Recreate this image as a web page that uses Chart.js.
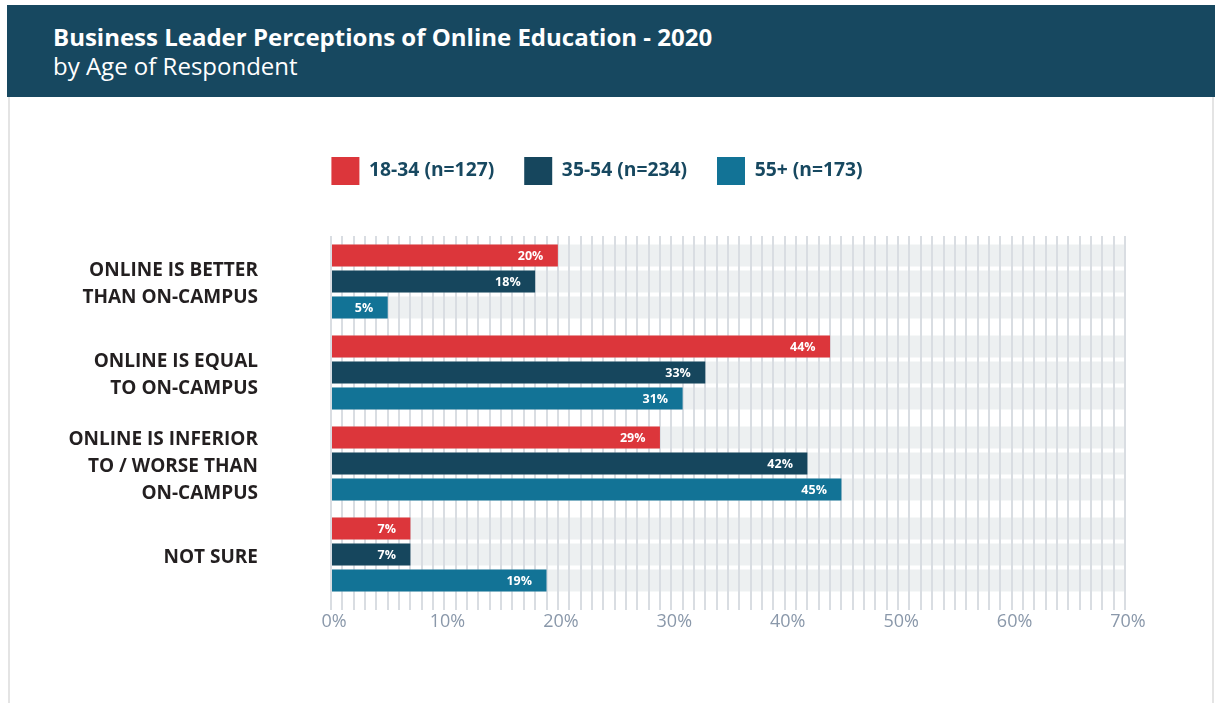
<!DOCTYPE html>
<html>
<head>
<meta charset="utf-8">
<script src="https://cdn.jsdelivr.net/npm/chart.js@4.4.1/dist/chart.umd.min.js"></script>
<style>
  html, body { margin: 0; padding: 0; background: #ffffff; }
  body { width: 1215px; height: 703px; position: relative; overflow: hidden; font-family: 'Open Sans', sans-serif; }
  #band { position: absolute; left: 7px; top: 5px; width: 1208px; height: 92px; background: #174860; color: #fff; box-sizing: border-box; padding: 18px 0 0 46px; }
  #band .t { font-weight: 700; font-size: 24px; line-height: 28px; }
  #band .s { font-weight: 400; font-size: 24px; line-height: 29px; }
  #card { position: absolute; left: 8px; top: 97px; width: 1206px; height: 620px; border-left: 2px solid #e4e4e4; border-right: 2px solid #e4e4e4; box-sizing: border-box; }
  #wrap { position: absolute; left: 0; top: 100px; width: 1215px; height: 603px; }
</style>
</head>
<body>
<div id="band"><div class="t">Business Leader Perceptions of Online Education - 2020</div><div class="s">by Age of Respondent</div></div>
<div id="card"></div>
<div id="wrap"><canvas id="c" width="1215" height="603"></canvas></div>
<script>
const categories = [
  ['ONLINE IS BETTER', 'THAN ON-CAMPUS'],
  ['ONLINE IS EQUAL', 'TO ON-CAMPUS'],
  ['ONLINE IS INFERIOR', 'TO / WORSE THAN', 'ON-CAMPUS'],
  ['NOT SURE']
];
const seriesNames = ['18-34 (n=127)', '35-54 (n=234)', '55+ (n=173)'];
const age18to34 = [20, 44, 29, 7];
const age35to54 = [18, 33, 42, 7];
const age55plus = [5, 31, 45, 19];
const seriesColors = ['#dc363b', '#16465d', '#127396'];
const axisMax = 70;
const tickLabelStep = 10;

Chart.defaults.font.family = "'Open Sans', sans-serif";

const trackPlugin = {
  id: 'tracks',
  beforeDraw(chart) {
    const ctx = chart.ctx;
    const xs = chart.scales.x;
    const left = xs.getPixelForValue(0);
    const right = xs.getPixelForValue(axisMax);
    ctx.save();
    ctx.fillStyle = '#edf0f1';
    chart.data.datasets.forEach((ds, i) => {
      const meta = chart.getDatasetMeta(i);
      meta.data.forEach(el => {
        ctx.fillRect(left, el.y - el.height / 2, right - left, el.height);
      });
    });
    ctx.restore();
  }
};

const labelPlugin = {
  id: 'barLabels',
  afterDatasetsDraw(chart) {
    const ctx = chart.ctx;
    ctx.save();
    ctx.fillStyle = '#ffffff';
    ctx.font = "700 12.5px 'Open Sans', sans-serif";
    ctx.textAlign = 'right';
    ctx.textBaseline = 'middle';
    chart.data.datasets.forEach((ds, i) => {
      const meta = chart.getDatasetMeta(i);
      meta.data.forEach((el, j) => {
        ctx.fillText(ds.data[j] + '%', el.x - 14.5, el.y + 0.5);
      });
    });
    ctx.restore();
  }
};

const seriesData = [age18to34, age35to54, age55plus];

new Chart(document.getElementById('c'), {
  type: 'bar',
  data: {
    labels: categories,
    datasets: seriesData.map((d, i) => ({
      label: seriesNames[i],
      data: d,
      backgroundColor: seriesColors[i],
      borderWidth: 0,
      borderSkipped: false,
      barPercentage: 0.846,
      categoryPercentage: 0.857
    }))
  },
  options: {
    indexAxis: 'y',
    responsive: false,
    animation: false,
    layout: { padding: { top: 27, bottom: 63, left: 0, right: 21 } },
    plugins: {
      tooltip: { enabled: false },
      legend: {
        position: 'top',
        align: 'center',
        onClick: null,
        labels: {
          boxWidth: 28,
          boxHeight: 28,
          padding: 30,
          color: '#174860',
          font: { size: 19.3, weight: '700', family: "'Open Sans', sans-serif" }
        }
      }
    },
    scales: {
      x: {
        type: 'linear',
        position: 'bottom',
        min: 0,
        max: axisMax,
        grid: { color: '#d9dde2', lineWidth: 2, drawTicks: true, tickLength: 10, tickColor: '#d9dde2' },
        border: { display: false },
        ticks: {
          stepSize: 1,
          autoSkip: false,
          maxRotation: 0,
          padding: 1,
          labelOffset: 3,
          color: '#8a98aa',
          font: { size: 18, family: "'Open Sans', sans-serif" },
          callback: v => (v % tickLabelStep === 0 ? v + '%' : '')
        },
        afterFit: s => { s.height = 40; }
      },
      xTop: {
        type: 'linear',
        axis: 'x',
        position: 'top',
        display: true,
        grid: { display: false, drawTicks: false },
        border: { display: false },
        ticks: { display: false },
        afterFit: s => { s.height = 41; }
      },
      y: {
        type: 'category',
        position: 'left',
        grid: { display: false, drawTicks: false },
        border: { display: false },
        ticks: {
          padding: 73,
          labelOffset: 3,
          color: '#231f20',
          font: { size: 19, weight: '700', lineHeight: 1.42, family: "'Open Sans', sans-serif" }
        },
        afterFit: s => { s.width = 331; }
      },
      yRight: {
        type: 'linear',
        axis: 'y',
        position: 'right',
        display: true,
        grid: { display: false, drawTicks: false },
        border: { display: false },
        ticks: { display: false },
        afterFit: s => { s.width = 69; }
      }
    }
  },
  plugins: [trackPlugin, labelPlugin]
});
</script>
</body>
</html>
